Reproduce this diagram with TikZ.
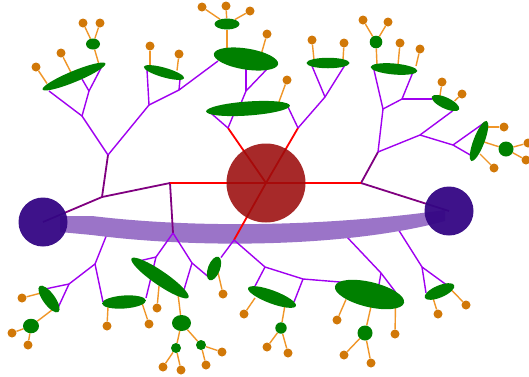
\documentclass[tikz,border=0pt]{standalone}
\usetikzlibrary{shapes.geometric,calc}
\definecolor{grn}{RGB}{0,128,0}
\definecolor{dotor}{RGB}{209,120,8}
\definecolor{lnor}{RGB}{240,150,40}
\definecolor{brpur}{RGB}{160,0,240}
\definecolor{dkpur}{RGB}{128,0,128}
\definecolor{redc}{RGB}{155,12,12}
\definecolor{indc}{RGB}{52,6,132}
\definecolor{bandc}{RGB}{155,116,200}
\pgfdeclarelayer{bgw}\pgfdeclarelayer{l0}\pgfdeclarelayer{l1}\pgfdeclarelayer{l2}\pgfdeclarelayer{l3}
\pgfsetlayers{bgw,l0,l1,l2,main,l3}
\begin{document}
\begin{tikzpicture}[x=1pt,y=-1pt,
 leaf/.style={ellipse,fill=grn,inner sep=0pt,draw=none},
 ball/.style={circle,fill=grn,inner sep=0pt},
 dot/.style={circle,fill=dotor,inner sep=0pt,minimum size=9pt},
 br/.style={brpur,line width=1.4pt},
 dk/.style={dkpur,line width=1.8pt},
 rd/.style={red,line width=1.8pt},
 og/.style={lnor,line width=1.4pt},
 hub/.style={circle,inner sep=0pt},
 line join=round, line cap=round]
\useasboundingbox (0,0) rectangle (529,376);
\begin{pgfonlayer}{bgw}
\fill[white] (0,0) rectangle (529,376);
\end{pgfonlayer}
% hubs
\begin{pgfonlayer}{l3}
\node[hub,fill=redc,fill opacity=.88,minimum size=79pt] (C0) at (266,183) {};
\node[hub,fill=indc,fill opacity=.95,minimum size=49pt] (Lp) at (43,222) {};
\node[hub,fill=indc,fill opacity=.95,minimum size=49pt] (Rp) at (449,211) {};
\end{pgfonlayer}
% junctions
\coordinate (j1) at (102,197);
\coordinate (jL) at (170,183);
\coordinate (jR) at (361,183);
\coordinate (t1) at (108,155);
\coordinate (t2) at (228,128);
\coordinate (t3) at (378,152);
\coordinate (t4) at (298,128);
\coordinate (b2) at (173,233);
\coordinate (b3) at (234,240);
\coordinate (a1) at (82,116);
\coordinate (a2) at (149,105);
\coordinate (a3) at (89,91);
\coordinate (a4) at (179,90);
\coordinate (a5) at (246,91);
\coordinate (a6) at (325,97);
\coordinate (a7) at (383,109);
\coordinate (a8) at (420,135);
\coordinate (a9) at (402,99);
\coordinate (a10) at (453,145);
\coordinate (b1) at (95,264);
\coordinate (b4) at (69,284);
\coordinate (b5) at (156,257);
\coordinate (b6) at (192,263);
\coordinate (b7) at (265,267);
\coordinate (b8) at (303,279);
\coordinate (b9) at (381,273);
\coordinate (b10) at (422,267);
\coordinate (s1) at (109,229);
\coordinate (s2) at (346,236);
\coordinate (s3) at (398,229);
% leaves
\node[leaf,minimum width=68pt,minimum height=11pt,rotate=22.5] (A) at (74,76.5) {};
\node[leaf,minimum width=14pt,minimum height=11pt] (B) at (93,44) {};
\node[leaf,minimum width=42pt,minimum height=9.6pt,rotate=-16] (C) at (164,72.5) {};
\node[leaf,minimum width=65pt,minimum height=21pt,rotate=-9] (D) at (246,59) {};
\node[leaf,minimum width=25pt,minimum height=11pt] (E) at (227,24) {};
\node[leaf,minimum width=84pt,minimum height=14pt,rotate=4] (F) at (248,108.5) {};
\node[leaf,minimum width=43pt,minimum height=10.5pt] (G) at (328,63) {};
\node[leaf,minimum width=47pt,minimum height=11pt,rotate=-5] (H) at (394,69) {};
\node[leaf,minimum width=30pt,minimum height=11pt,rotate=-25] (I) at (445.5,103) {};
\node[ball,minimum size=12.6pt] (J) at (376,42) {};
\node[leaf,minimum width=43pt,minimum height=11pt,rotate=69] (K) at (479,141) {};
\node[ball,minimum size=15pt] (L) at (506,149) {};
\node[leaf,minimum width=32pt,minimum height=12pt,rotate=-54] (M) at (49,299) {};
\node[leaf,minimum width=44pt,minimum height=13pt,rotate=4] (N) at (124,302) {};
\node[leaf,minimum width=16pt,minimum height=14.5pt] (O) at (31,326) {};
\node[leaf,minimum width=69pt,minimum height=14pt,rotate=-34.5] (P) at (160,278) {};
\node[leaf,minimum width=25pt,minimum height=12pt,rotate=69] (Q) at (214,268.5) {};
\node[leaf,minimum width=19pt,minimum height=16pt] (R) at (181.5,323) {};
\node[ball,minimum size=10pt] (S) at (176,348) {};
\node[ball,minimum size=10pt] (T) at (201,345) {};
\node[leaf,minimum width=51pt,minimum height=13pt,rotate=-20.6] (U) at (272,297) {};
\node[leaf,minimum width=71pt,minimum height=25pt,rotate=-13.5] (V) at (369.5,294.5) {};
\node[ball,minimum size=11.4pt] (W) at (281,328) {};
\node[leaf,minimum width=32pt,minimum height=12pt,rotate=23] (X) at (439.5,291.5) {};
\node[ball,minimum size=15pt] (Y) at (365,333) {};
% dots
\node[dot] (dA1) at (36,67) {};
\node[dot] (dA2) at (61,53) {};
\node[dot] (dB1) at (83,23) {};
\node[dot] (dB2) at (100,23) {};
\node[dot] (dC1) at (150,46) {};
\node[dot] (dC2) at (179,54) {};
\node[dot] (dD1) at (267,34) {};
\node[dot] (dE1) at (202,7) {};
\node[dot] (dE2) at (226,6) {};
\node[dot] (dE3) at (250,11) {};
\node[dot] (dF1) at (287,80) {};
\node[dot] (dG1) at (312,40) {};
\node[dot] (dG2) at (344,43) {};
\node[dot] (dH1) at (400,43) {};
\node[dot] (dH2) at (420,49) {};
\node[dot] (dJ1) at (363,20) {};
\node[dot] (dJ2) at (388,22) {};
\node[dot] (dI1) at (442,82) {};
\node[dot] (dI2) at (462,94) {};
\node[dot] (dK1) at (504,127) {};
\node[dot] (dK2) at (494,168) {};
\node[dot] (dL1) at (528,143) {};
\node[dot] (dL2) at (526,160) {};
\node[dot] (dM1) at (22,298) {};
\node[dot] (dO1) at (12,333) {};
\node[dot] (dO2) at (28,345) {};
\node[dot] (dN1) at (107,326) {};
\node[dot] (dN2) at (149,324) {};
\node[dot] (dP1) at (157,308) {};
\node[dot] (dS1) at (163,367) {};
\node[dot] (dS2) at (181,370) {};
\node[dot] (dT1) at (222,352) {};
\node[dot] (dT2) at (206,365) {};
\node[dot] (dQ1) at (223,294) {};
\node[dot] (dU1) at (244,314) {};
\node[dot] (dW1) at (267,347) {};
\node[dot] (dW2) at (288,353) {};
\node[dot] (dV1) at (337,320) {};
\node[dot] (dV2) at (395,334) {};
\node[dot] (dY1) at (344,355) {};
\node[dot] (dY2) at (371,363) {};
\node[dot] (dX1) at (438,314) {};
\node[dot] (dX2) at (466,305) {};
% band and lines starting at the band
\begin{pgfonlayer}{l0}
\draw[br] (s1) -- (b1);
\draw[br] (s2) -- (b9);
\draw[br] (s3) -- (b10);
\end{pgfonlayer}
\begin{pgfonlayer}{l1}
\fill[bandc] (60,216) -- (92,216) .. controls (200,229) and (330,226) .. (445,210)
 -- (445,221) .. controls (350,247) and (200,249) .. (92,235) -- (60,232) -- cycle;
\end{pgfonlayer}
\begin{pgfonlayer}{l2}
% dark purple
\draw[dk] (Lp.center) -- (j1) -- (jL);
\draw[dk] (j1) -- (t1);
\draw[dk] (jL) -- (b2);
\draw[dk] (jR) -- (Rp.center);
\draw[dk] (jR) -- (t3);
% red
\draw[rd] (C0.center) -- (jL);
\draw[rd] (C0.center) -- (jR);
\draw[rd] (C0.center) -- (t2);
\draw[rd] (C0.center) -- (t4);
\draw[rd] (C0.center) -- (b3);
% bright purple, top
\draw[br] (t1) -- (a1);
\draw[br] (t1) -- (a2);
\draw[br] (a1) -- ($(A)+(-25,14.5)$);
\draw[br] (a1) -- (a3);
\draw[br] (a3) -- ($(A)+(8,2.5)$);
\draw[br] (a3) -- ($(A)+(27,-8.5)$);
\draw[br] (a2) -- ($(C)+(-17,-2.5)$);
\draw[br] (a2) -- (a4);
\draw[br] (a4) -- ($(C)+(16,6.5)$);
\draw[br] (a4) -- ($(D)+(-28,2)$);
\draw[br] ($(D)+(0,8)$) -- (a5);
\draw[br] ($(D)+(23,8)$) -- (a5);
\draw[br] (a5) -- ($(F)+(-8,-3)$);
\draw[br] (t2) -- ($(F)+(-39,3)$);
\draw[br] (t2) -- ($(F)+(-14,5)$);
\draw[br] (t4) -- ($(F)+(40,-1.5)$);
\draw[br] (t4) -- (a6);
\draw[br] (a6) -- ($(G)+(-16,3)$);
\draw[br] (a6) -- ($(G)+(17,2)$);
\draw[br] (t3) -- (a7);
\draw[br] (t3) -- (a8);
\draw[br] (a7) -- ($(H)+(-20,1)$);
\draw[br] (a7) -- (a9);
\draw[br] (a9) -- ($(H)+(19,3)$);
\draw[br] (a9) -- ($(I)+(-14,-4)$);
\draw[br] (a8) -- ($(I)+(7,8)$);
\draw[br] (a8) -- (a10);
\draw[br] (a10) -- ($(K)+(5,-18)$);
\draw[br] (a10) -- ($(K)+(-7,15)$);
% bright purple, bottom
\draw[br] (b1) -- (b4);
\draw[br] (b1) -- ($(N)+(-21,0)$);
\draw[br] (b4) -- ($(M)+(-4,-10)$);
\draw[br] (b4) -- ($(M)+(8,11)$);
\draw[br] (b2) -- (b5);
\draw[br] (b2) -- (b6);
\draw[br] (b5) -- ($(P)+(-21,-17)$);
\draw[br] (b5) -- ($(N)+(22,-4)$);
\draw[br] (b6) -- ($(P)+(23,15)$);
\draw[br] (b6) -- ($(Q)+(-6,8)$);
\draw[br] (b3) -- ($(Q)+(7,-11)$);
\draw[br] (b3) -- (b7);
\draw[br] (b7) -- ($(U)+(-18,-9)$);
\draw[br] (b7) -- (b8);
\draw[br] (b8) -- ($(U)+(22,5)$);
\draw[br] (b8) -- ($(V)+(-23.5,-12)$);
\draw[br] (b9) -- ($(V)+(9.5,-10)$);
\draw[br] (b9) -- ($(V)+(26,-2.5)$);
\draw[br] (b10) -- ($(X)+(-13.5,1.5)$);
\draw[br] (b10) -- ($(X)+(6.5,-7)$);
% orange
\draw[og] ($(A)+(-27,7)$) -- (dA1);
\draw[og] ($(A)+(-3,-4)$) -- (dA2);
\draw[og] ($(A)+(25,-12)$) -- (B);
\draw[og] (B) -- (dB1);
\draw[og] (B) -- (dB2);
\draw[og] ($(C)+(-14,-3)$) -- (dC1);
\draw[og] ($(C)+(13,-2)$) -- (dC2);
\draw[og] ($(D)+(-19,0)$) -- (E);
\draw[og] ($(D)+(15,-4)$) -- (dD1);
\draw[og] (E) -- (dE1);
\draw[og] (E) -- (dE2);
\draw[og] (E) -- (dE3);
\draw[og] ($(F)+(30,-4)$) -- (dF1);
\draw[og] ($(G)+(-14,-3)$) -- (dG1);
\draw[og] ($(G)+(15,-3)$) -- (dG2);
\draw[og] ($(H)+(-17,-4)$) -- (J);
\draw[og] ($(H)+(4,-4)$) -- (dH1);
\draw[og] ($(H)+(22,-3)$) -- (dH2);
\draw[og] (J) -- (dJ1);
\draw[og] (J) -- (dJ2);
\draw[og] ($(I)+(-6,-4)$) -- (dI1);
\draw[og] ($(I)+(9,-2)$) -- (dI2);
\draw[og] ($(K)+(8,-14)$) -- (dK1);
\draw[og] ($(K)+(5,1)$) -- (L);
\draw[og] ($(K)+(1,13)$) -- (dK2);
\draw[og] (L) -- (dL1);
\draw[og] (L) -- (dL2);
\draw[og] ($(M)+(-8,-6)$) -- (dM1);
\draw[og] ($(M)+(3,11)$) -- (O);
\draw[og] (O) -- (dO1);
\draw[og] (O) -- (dO2);
\draw[og] ($(N)+(-16,5)$) -- (dN1);
\draw[og] ($(N)+(18,1)$) -- (dN2);
\draw[og] ($(P)+(-1,8)$) -- (dP1);
\draw[og] ($(P)+(18,16)$) -- (R);
\draw[og] (R) -- (S);
\draw[og] (R) -- (T);
\draw[og] (S) -- (dS1);
\draw[og] (S) -- (dS2);
\draw[og] (T) -- (dT1);
\draw[og] (T) -- (dT2);
\draw[og] ($(Q)+(4,4)$) -- (dQ1);
\draw[og] ($(U)+(-17,1)$) -- (dU1);
\draw[og] ($(U)+(13,8)$) -- (W);
\draw[og] (W) -- (dW1);
\draw[og] (W) -- (dW2);
\draw[og] ($(V)+(-23.5,5)$) -- (dV1);
\draw[og] ($(V)+(1.5,12)$) -- (Y);
\draw[og] ($(V)+(26,11)$) -- (dV2);
\draw[og] (Y) -- (dY1);
\draw[og] (Y) -- (dY2);
\draw[og] ($(X)+(-6.5,6.5)$) -- (dX1);
\draw[og] ($(X)+(12,-1.5)$) -- (dX2);
\end{pgfonlayer}
\end{tikzpicture}
\end{document}
